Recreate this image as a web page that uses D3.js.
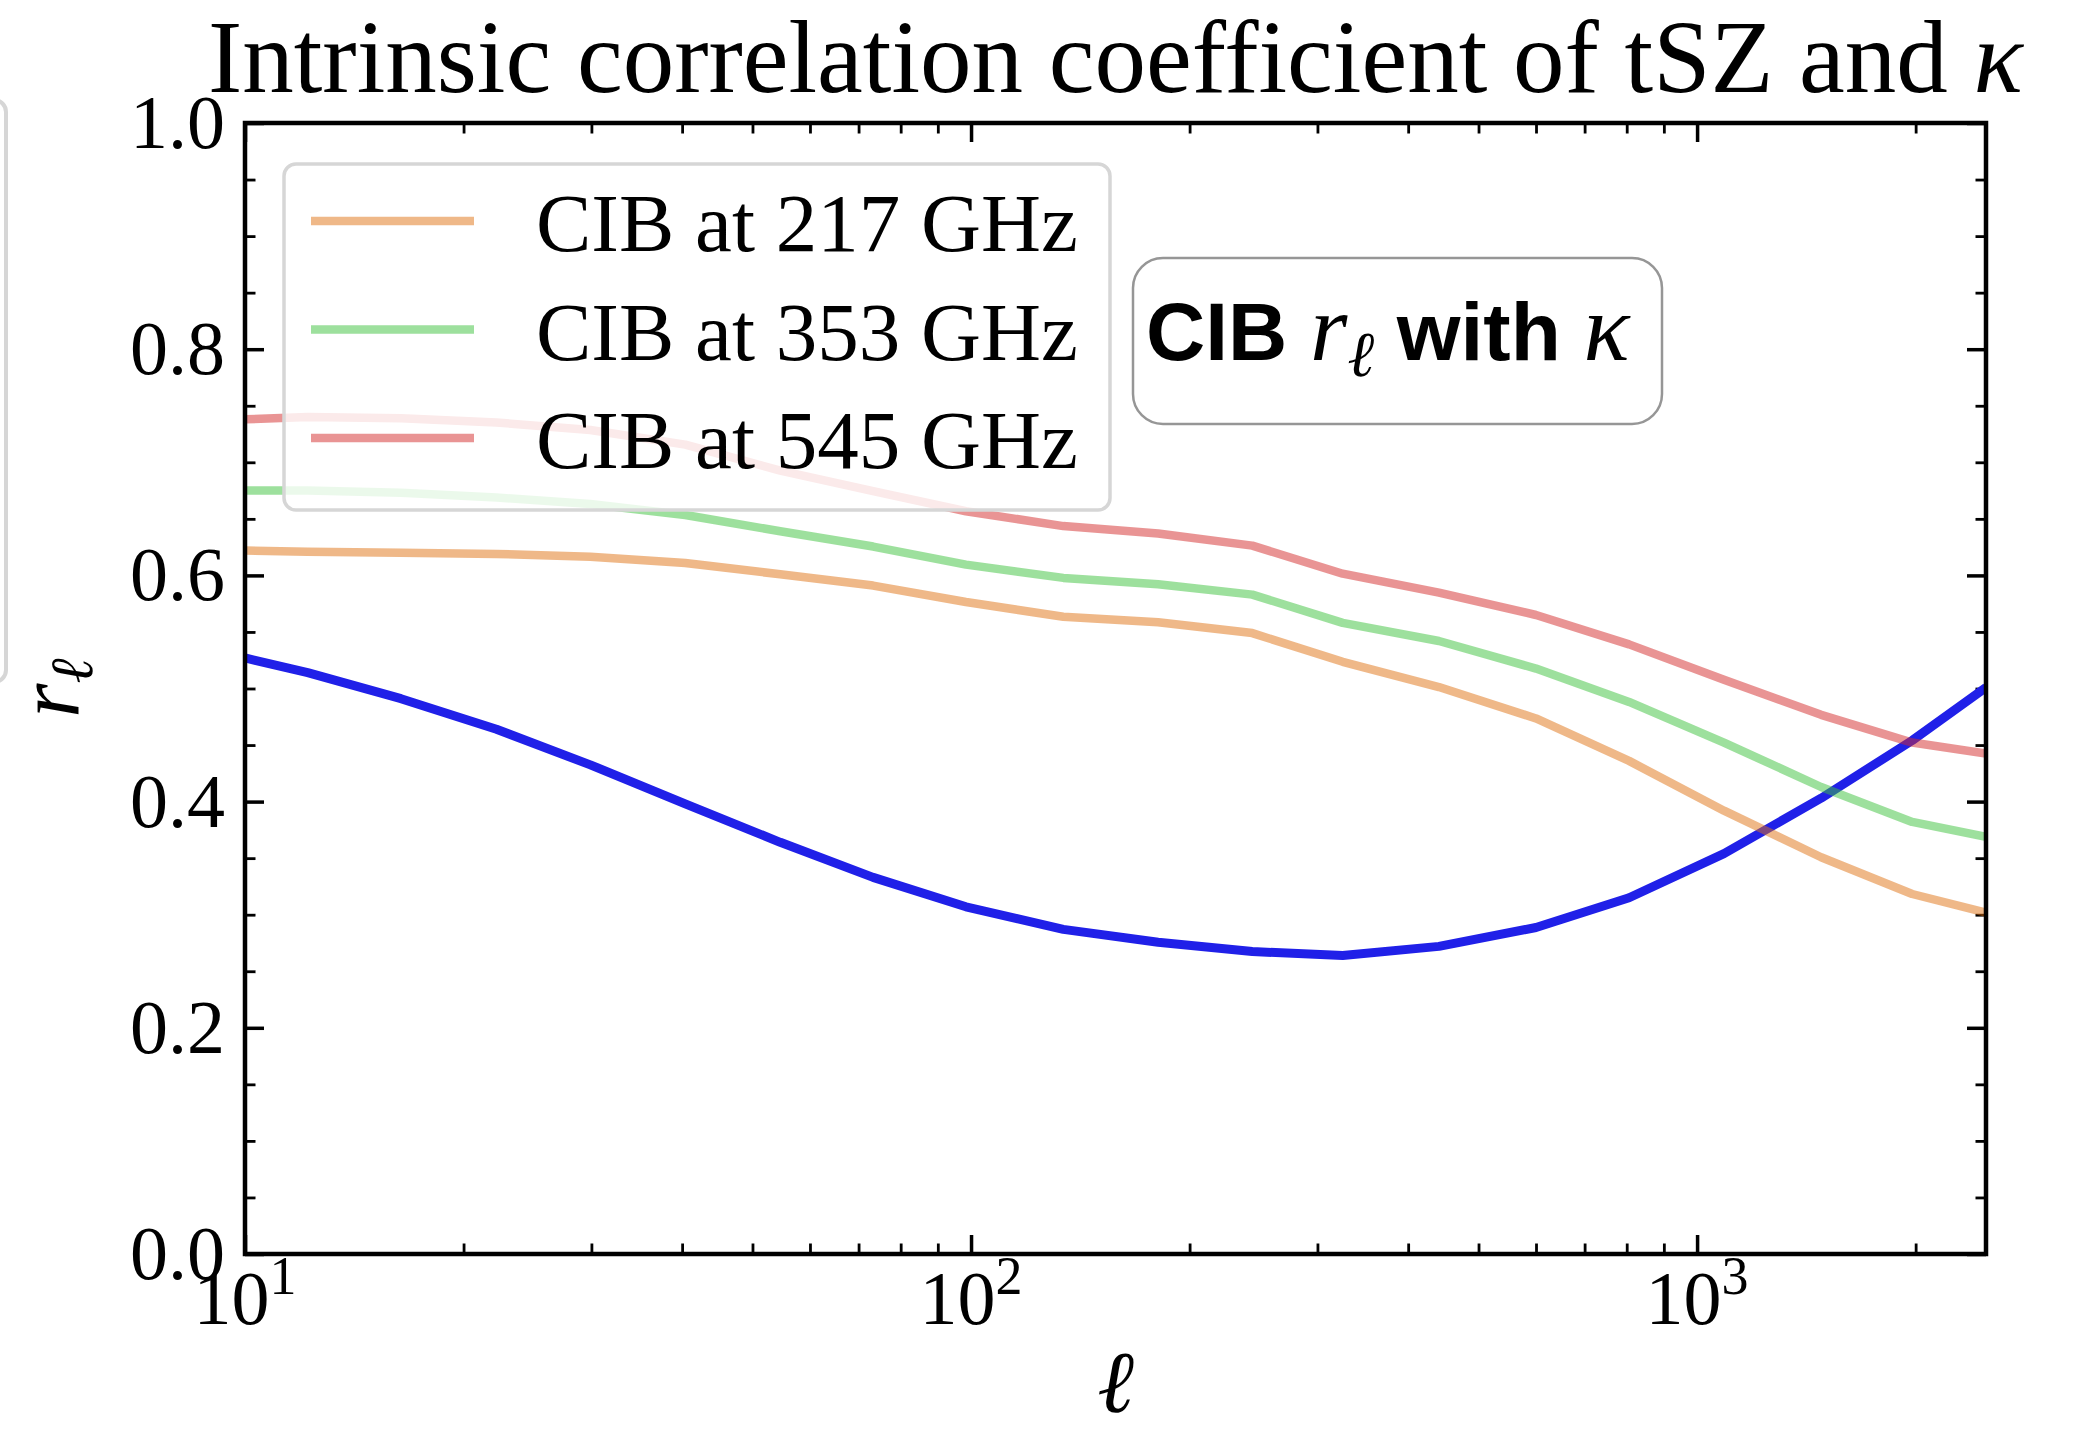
<!DOCTYPE html>
<html>
<head>
<meta charset="utf-8">
<script src="https://cdn.jsdelivr.net/npm/d3@7"></script>
<style>
  body { margin: 0; background: #fff; }
  svg { display: block; }
</style>
</head>
<body>
<div id="chart"></div>
<script>
// data ///////////////////////////
var ells = [10, 12.2, 16.4, 22.2, 29.9, 40.4, 54.6, 73.3, 98.4, 134, 181, 244, 325, 441, 600, 806, 1089, 1482, 1978, 2500];

var rTszKappa = [0.527, 0.514, 0.491, 0.464, 0.4325, 0.398, 0.364, 0.333, 0.307, 0.287, 0.2756, 0.2674, 0.264, 0.272, 0.2887, 0.315, 0.354, 0.403, 0.454, 0.501];
var rCib217 = [0.622, 0.621, 0.620, 0.619, 0.6165, 0.611, 0.601, 0.591, 0.5765, 0.5634, 0.5585, 0.549, 0.5236, 0.5013, 0.4735, 0.436, 0.392, 0.3508, 0.3183, 0.3018];
var rCib353 = [0.675, 0.675, 0.673, 0.6688, 0.6632, 0.6534, 0.639, 0.6255, 0.6095, 0.5978, 0.5922, 0.583, 0.558, 0.542, 0.5176, 0.4881, 0.4522, 0.4129, 0.382, 0.3688];
var rCib545 = [0.738, 0.740, 0.739, 0.7352, 0.7286, 0.7156, 0.6927, 0.6746, 0.6567, 0.6436, 0.637, 0.6263, 0.6015, 0.5847, 0.565, 0.539, 0.5078, 0.4767, 0.4522, 0.4424];

var cibLabels = ['CIB at 217 GHz', 'CIB at 353 GHz', 'CIB at 545 GHz'];
var cibColors = ['#e07112', '#3bc13b', '#d32929'];

var yTicks = [0.0, 0.2, 0.4, 0.6, 0.8, 1.0];
var xMajor = [10, 100, 1000];
var xMinor = [20, 30, 40, 50, 60, 70, 80, 90, 200, 300, 400, 500, 600, 700, 800, 900, 2000];
var xTickExp = ['1', '2', '3'];

(function() {
    "use strict";
    //setup ///////////////////////////////////////////
    var W = 2076, H = 1430;
    var pL = 245, pR = 1986, pT = 123, pB = 1254;
    var serif = '"Liberation Serif", "DejaVu Serif", serif';
    var sans = '"Liberation Sans", Arial, sans-serif';

    var svg = d3.select('#chart')
        .append('svg')
        .attr('width', W)
        .attr('height', H)
        .style('background', '#fff');

    var x = d3.scaleLog().domain([10, 2500]).range([pL, pR]);
    var y = d3.scaleLinear().domain([0, 1]).range([pB, pT]);

    // clipped legend box of the neighbouring panel
    svg.append('rect')
        .attr('x', -40).attr('y', 100)
        .attr('width', 46).attr('height', 582)
        .attr('rx', 12)
        .attr('fill', 'none')
        .attr('stroke', '#d6d6d6')
        .attr('stroke-width', 4);

    // title
    svg.append('text')
        .attr('x', (pL + pR) / 2)
        .attr('y', 92)
        .attr('text-anchor', 'middle')
        .style('font-family', serif)
        .style('font-size', '103px')
        .text('Intrinsic correlation coefficient of tSZ and ')
        .append('tspan')
        .style('font-style', 'italic')
        .text('κ');

    // ticks (inward, all four sides)
    function drawAxis(axis, tx, ty, sw) {
        var g = svg.append('g')
            .attr('transform', 'translate(' + tx + ',' + ty + ')')
            .call(axis);
        g.select('.domain').remove();
        g.selectAll('text').remove();
        g.selectAll('line').attr('stroke', '#000').attr('stroke-width', sw);
        return g;
    }

    var yMinor = d3.range(1, 20).map(function(i) { return i * 0.05; })
        .filter(function(v) { return Math.abs(v * 5 - Math.round(v * 5)) > 1e-6; });

    drawAxis(d3.axisBottom(x).tickValues(xMajor).tickSize(-19), 0, pB, 3.5);
    drawAxis(d3.axisBottom(x).tickValues(xMinor).tickSize(-10.5), 0, pB, 2.8);
    drawAxis(d3.axisTop(x).tickValues(xMajor).tickSize(-19), 0, pT, 3.5);
    drawAxis(d3.axisTop(x).tickValues(xMinor).tickSize(-10.5), 0, pT, 2.8);
    drawAxis(d3.axisLeft(y).tickValues(yTicks).tickSize(-19), pL, 0, 3.5);
    drawAxis(d3.axisLeft(y).tickValues(yMinor).tickSize(-10.5), pL, 0, 2.8);
    drawAxis(d3.axisRight(y).tickValues(yTicks).tickSize(-19), pR, 0, 3.5);
    drawAxis(d3.axisRight(y).tickValues(yMinor).tickSize(-10.5), pR, 0, 2.8);

    // lines ///////////////////////////////////////////
    svg.append('clipPath').attr('id', 'plotclip')
        .append('rect')
        .attr('x', pL).attr('y', pT)
        .attr('width', pR - pL).attr('height', pB - pT);

    var plot = svg.append('g').attr('clip-path', 'url(#plotclip)');

    var line = d3.line()
        .x(function(d) { return x(d[0]); })
        .y(function(d) { return y(d[1]); });

    function pairs(vals) {
        return ells.map(function(l, i) { return [l, vals[i]]; });
    }

    plot.append('path')
        .datum(pairs(rTszKappa))
        .attr('d', line)
        .attr('fill', 'none')
        .attr('stroke', '#2020e8')
        .attr('stroke-width', 9)
        .attr('stroke-linejoin', 'round');

    [rCib217, rCib353, rCib545].forEach(function(vals, i) {
        plot.append('path')
            .datum(pairs(vals))
            .attr('d', line)
            .attr('fill', 'none')
            .attr('stroke', cibColors[i])
            .attr('stroke-opacity', 0.5)
            .attr('stroke-width', 8.5)
            .attr('stroke-linejoin', 'round');
    });

    // frame
    svg.append('rect')
        .attr('x', pL).attr('y', pT)
        .attr('width', pR - pL).attr('height', pB - pT)
        .attr('fill', 'none')
        .attr('stroke', '#000')
        .attr('stroke-width', 4.5);

    // tick labels
    svg.selectAll('.ylab')
        .data(yTicks)
        .enter()
        .append('text')
        .attr('class', 'ylab')
        .attr('x', pL - 20)
        .attr('y', function(d) { return y(d); })
        .attr('dy', '0.33em')
        .attr('text-anchor', 'end')
        .style('font-family', serif)
        .style('font-size', '76px')
        .text(function(d) { return d.toFixed(1); });

    var xl = svg.selectAll('.xlab')
        .data(xMajor)
        .enter()
        .append('text')
        .attr('class', 'xlab')
        .attr('x', function(d) { return x(d); })
        .attr('y', 1324)
        .attr('text-anchor', 'middle')
        .style('font-family', serif)
        .style('font-size', '76px');
    xl.append('tspan').text('10');
    xl.append('tspan')
        .attr('dy', -30)
        .style('font-size', '54px')
        .text(function(d, i) { return xTickExp[i]; });

    // axis labels
    svg.append('text')
        .attr('transform', 'translate(78,688) rotate(-90)')
        .attr('text-anchor', 'middle')
        .style('font-family', serif)
        .style('font-style', 'italic')
        .style('font-size', '88px')
        .text('r')
        .append('tspan')
        .attr('dy', 14)
        .style('font-size', '60px')
        .text('ℓ');

    svg.append('text')
        .attr('x', (pL + pR) / 2)
        .attr('y', 1412)
        .attr('text-anchor', 'middle')
        .style('font-family', serif)
        .style('font-style', 'italic')
        .style('font-size', '88px')
        .text('ℓ');

    // legend //////////////////////////////////////////
    var legend = svg.append('g');
    legend.append('rect')
        .attr('x', 284).attr('y', 164)
        .attr('width', 826).attr('height', 346)
        .attr('rx', 12)
        .attr('fill', '#fff')
        .attr('fill-opacity', 0.8)
        .attr('stroke', '#d6d6d6')
        .attr('stroke-width', 3.5);

    var legendRows = legend.selectAll('.row')
        .data(cibLabels)
        .enter()
        .append('g')
        .attr('transform', function(d, i) { return 'translate(0,' + (221 + i * 108.5) + ')'; });

    legendRows.append('line')
        .attr('x1', 311).attr('x2', 474)
        .attr('stroke', function(d, i) { return cibColors[i]; })
        .attr('stroke-opacity', 0.5)
        .attr('stroke-width', 8.5);

    legendRows.append('text')
        .attr('x', 536)
        .attr('y', 30)
        .style('font-family', serif)
        .style('font-size', '83px')
        .text(function(d) { return d; });

    // annotation box //////////////////////////////////
    svg.append('rect')
        .attr('x', 1133).attr('y', 258)
        .attr('width', 529).attr('height', 166)
        .attr('rx', 30)
        .attr('fill', '#fff')
        .attr('stroke', '#969696')
        .attr('stroke-width', 2.5);

    var ann = svg.append('text')
        .attr('x', 1146)
        .attr('y', 360)
        .style('font-size', '82px');
    ann.append('tspan').style('font-family', sans).style('font-weight', 'bold').text('CIB ');
    ann.append('tspan').style('font-family', serif).style('font-style', 'italic').style('font-size', '96px').text('r');
    ann.append('tspan').attr('dy', 16).style('font-family', serif).style('font-style', 'italic').style('font-size', '64px').text('ℓ');
    ann.append('tspan').attr('dy', -16).style('font-family', sans).style('font-weight', 'bold').text(' with ');
    ann.append('tspan').style('font-family', serif).style('font-style', 'italic').style('font-size', '96px').text('κ');
})();
</script>
</body>
</html>
